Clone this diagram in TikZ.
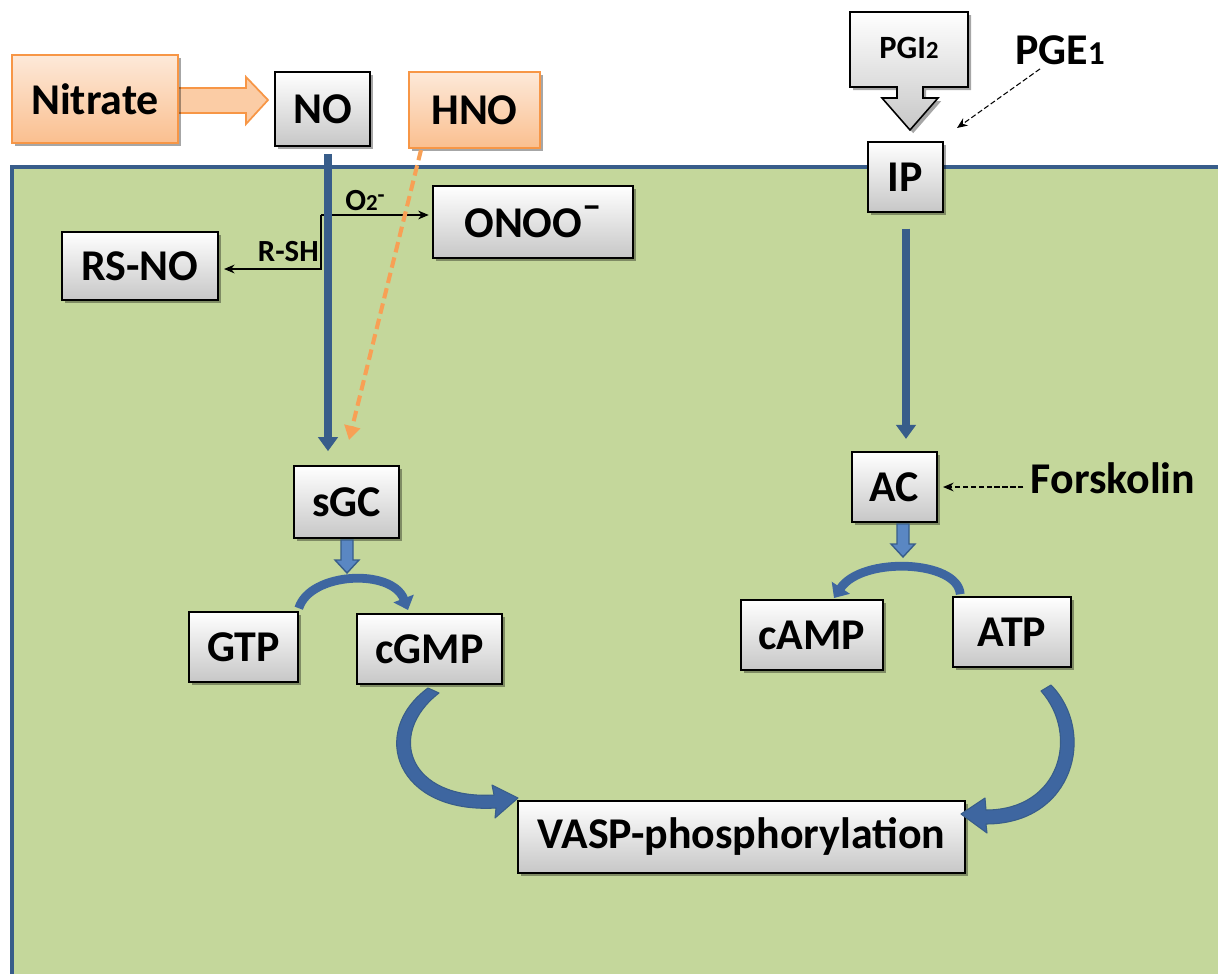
\documentclass[tikz,border=0pt]{standalone}
\usepackage{fontspec}
\setmainfont{Carlito}
\usetikzlibrary{shadows,arrows.meta}
\definecolor{memblue}{RGB}{56,93,138}
\definecolor{arrblue}{RGB}{62,102,160}
\definecolor{lightblue}{RGB}{90,135,195}
\definecolor{cellgreen}{RGB}{196,215,155}
\definecolor{orline}{RGB}{247,150,70}
\definecolor{ortop}{RGB}{253,233,217}
\definecolor{orbot}{RGB}{250,191,143}
\definecolor{ordash}{RGB}{248,160,85}
\begin{document}
\begin{tikzpicture}[x=0.02cm,y=-0.02cm,
  boxshadow/.style={drop shadow={shadow xshift=1.8pt,shadow yshift=-1.8pt,opacity=0.35,fill=black}},
  gbox/.style={draw=black, line width=0.9pt, top color=white, bottom color=black!22, boxshadow, inner sep=0pt, font=\fontsize{25}{29}\selectfont\bfseries},
  obox/.style={draw=orline, line width=1pt, top color=ortop, bottom color=orbot, boxshadow, inner sep=0pt, font=\fontsize{25}{29}\selectfont\bfseries},
  lbl/.style={font=\fontsize{17.5}{20}\selectfont\bfseries, inner sep=0pt},
  big/.style={font=\fontsize{25}{29}\selectfont\bfseries, inner sep=0pt},
  thinarr/.style={-{Stealth[length=6pt,width=5pt]}, line width=0.6pt},
  dasharr/.style={thinarr, dash pattern=on 3pt off 1.5pt},
  mainarr/.style={memblue, line width=4pt, -{Triangle[length=8pt,width=11pt]}},
  arcarr/.style={arrblue, line width=5pt, -{Triangle[length=7pt,width=12pt]}},
  curvfill/.style={fill=arrblue, draw=memblue, line width=0.6pt, line join=round},
  blockarr/.style={fill=lightblue, draw=memblue, line width=0.8pt}
]
\useasboundingbox (0,0) rectangle (1218,974);
% cell
\fill[cellgreen] (12,167) rectangle (1218,974);
\draw[memblue, line width=2.3pt] (12,974) -- (12,167) -- (1218,167);

% outside
\draw[orline, line width=1pt, fill=orbot!70!ortop] (176,88) -- (246,88) -- (246,77) -- (268,100) -- (246,124) -- (246,113) -- (176,113) -- cycle;
\node[obox, minimum width=3.32cm, minimum height=1.76cm] (nitrate) at (95,99) {Nitrate};
\node[gbox, minimum width=1.9cm, minimum height=1.48cm] (NO) at (322.5,109) {NO};
\node[obox, minimum width=2.62cm, minimum height=1.52cm] (HNO) at (474.5,110) {HNO};

% PGI2 arrow-callout
\path[draw=black, line width=0.9pt, top color=white, bottom color=black!22, boxshadow]
  (850,12) -- (968,12) -- (968,87) -- (923,87) -- (923,98) -- (938,98) -- (910,130)
  -- (882,98) -- (897,98) -- (897,87) -- (850,87) -- cycle;
\node[lbl, font=\fontsize{18.5}{21}\selectfont\bfseries] (PGI) at (909,48) {PGI{\fontsize{14}{15}\selectfont 2}};
\node[big] (PGE) at (1060,50) {PGE{\fontsize{19}{20}\selectfont 1}};
\coordinate (pgetip) at (957,128);
\draw[dasharr] (PGE.south) ++(-20,4) -- (pgetip);

% inner boxes
\node[gbox, minimum width=1.5cm, minimum height=1.4cm] (IP) at (905.5,177) {IP};
\node[gbox, minimum width=3.12cm, minimum height=1.36cm] (RSNO) at (140,266) {RS-NO};
\node[gbox, minimum width=4.0cm, minimum height=1.44cm] (ONOO) at (533,222) {ONOO\raisebox{0.42em}{\fontsize{22}{22}\selectfont –}};
\node[gbox, minimum width=2.1cm, minimum height=1.44cm] (sGC) at (346.5,502) {sGC};
\node[gbox, minimum width=2.18cm, minimum height=1.4cm] (GTP) at (243.5,647) {GTP};
\node[gbox, minimum width=2.9cm, minimum height=1.4cm] (cGMP) at (429.5,649) {cGMP};
\node[gbox, minimum width=1.7cm, minimum height=1.4cm] (AC) at (894.5,487) {AC};
\node[gbox, minimum width=2.84cm, minimum height=1.4cm] (cAMP) at (812,635) {cAMP};
\node[gbox, minimum width=2.36cm, minimum height=1.4cm] (ATP) at (1012,632) {ATP};
\node[gbox, minimum width=8.94cm, minimum height=1.44cm] (VASP) at (741.5,837) {VASP-phosphorylation};
\node[big] (forsk) at (1113,478) {Forskolin};

% thin NO side reactions
\coordinate (br) at (321,215);
\coordinate (bl) at (321,269);
\draw[thinarr, shorten >=2pt] (br) -- (br -| ONOO.west);
\draw[thinarr, shorten >=3pt] (br) -- (bl) -- (bl -| RSNO.east);
\node[lbl, anchor=south west] (o2) at (345,211) {O{\fontsize{13}{13}\selectfont 2}\raisebox{0.55ex}{\fontsize{13}{13}\selectfont -}};
\node[lbl, anchor=south east] (rsh) at (319,262) {R-SH};

% NO main arrow
\draw[mainarr, shorten <=4pt, shorten >=8pt] ([xshift=0.11cm]NO.south) -- ([xshift=0.11cm]NO.south |- sGC.north);
% HNO dashed
\coordinate (hs) at (421,150);
\coordinate (ht) at (349,440);
\draw[ordash, line width=2.3pt, dash pattern=on 6pt off 3pt, -{Triangle[length=8pt,width=9pt]}] (hs) -- (ht);

% IP to AC
\draw[mainarr, shorten <=9pt, shorten >=7pt] ([xshift=0.01cm]IP.south) -- ([xshift=0.01cm]IP.south |- AC.north);
% Forskolin
\draw[dasharr, shorten <=4pt, shorten >=3pt] (forsk.west |- AC.east) -- (AC.east);

% small block arrows
\path[blockarr] (341,540) -- (353,540) -- (353,560) -- (359,560) -- (347,573) -- (335,560) -- (341,560) -- cycle;
\path[blockarr] (897,524) -- (909,524) -- (909,544) -- (915,544) -- (903,557) -- (891,544) -- (897,544) -- cycle;

% arcs
\draw[arcarr] (GTP.north east) ++(0,-3) .. controls (310,572) and (392,568) .. (408,610);
\draw[arcarr] (ATP.north west) ++(8,-2) .. controls (958,560) and (862,556) .. (834,598);

% big curved (tapered) arrows
\path[curvfill] (428,688) .. controls (368,732) and (396,814) .. (496,808)
  -- (495,818) -- (518,798) -- (492,785) -- (494,795)
  .. controls (410,800) and (385,735) .. (439,693) -- cycle;
\path[curvfill] (1051,685) .. controls (1097,732) and (1074,824) .. (986,824)
  -- (987,833) -- (961,814) -- (985,798) -- (986,810)
  .. controls (1060,810) and (1080,735) .. (1041,691) -- cycle;
\end{tikzpicture}
\end{document}
